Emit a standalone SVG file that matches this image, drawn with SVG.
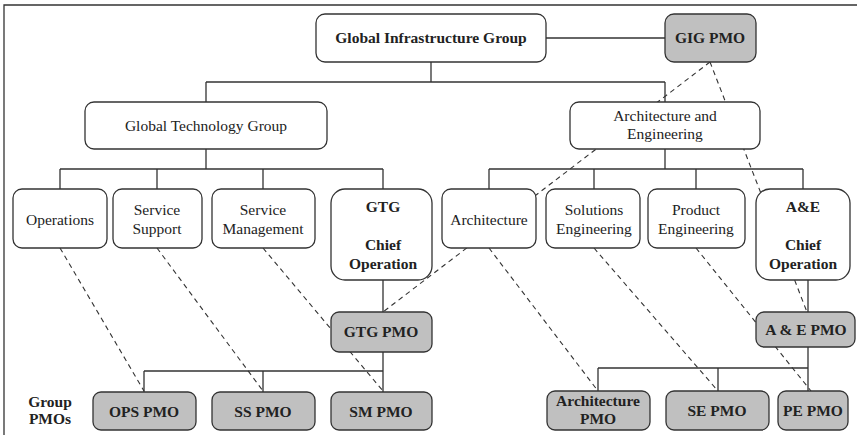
<svg xmlns="http://www.w3.org/2000/svg" width="857" height="435" viewBox="0 0 857 435" font-family="'Liberation Serif', 'DejaVu Serif', 'Times New Roman', Times, serif">
<style>
.box{fill:#fff;stroke:#333;stroke-width:1.3}
.pmo{fill:#c0c0c0;stroke:#333;stroke-width:1.3}
.t{font-family:'Liberation Serif','DejaVu Serif','Times New Roman',Times,serif;font-size:15.5px;fill:#222;text-anchor:middle}
.b{font-weight:bold}
.ln{stroke:#333;stroke-width:1.3;fill:none}
.dl{stroke:#333;stroke-width:1.1;fill:none;stroke-dasharray:5 4}
</style>
<rect width="857" height="435" fill="#fff"/>
<path class="ln" d="M4,435 V5 H857" stroke="#555"/>
<g id="connectors">
<path class="ln" d="M546,38 H665"/>
<path class="ln" d="M431,62 V82 M206,82 H665 M206,82 V102 M665,82 V102"/>
<path class="ln" d="M206,149 V169 M60,169 H383 M60,169 V189 M157,169 V189 M263,169 V189 M383,169 V189"/>
<path class="ln" d="M665,149 V169 M489,169 H803 M489,169 V189 M594,169 V189 M696,169 V189 M803,169 V189"/>
<path class="ln" d="M383,280 V312 M383,352 V371 M144,371 H383 M144,371 V392 M263,371 V392 M383,371 V392"/>
<path class="ln" d="M808,280 V312 M808,347 V368 M598,368 H808 M598,368 V391 M718,368 V391 M808,368 V391"/>
<path class="dl" d="M60,248 L144,391"/>
<path class="dl" d="M157,248 L263,391"/>
<path class="dl" d="M263,248 L383,391"/>
<path class="dl" d="M710,62 L383,312"/>
<path class="dl" d="M710,62 L807,312"/>
<path class="dl" d="M489,248 L598,391"/>
<path class="dl" d="M594,248 L718,391"/>
<path class="dl" d="M696,248 L811,391"/>
</g>
<g id="gig"><rect class="box" x="316" y="14" width="230" height="48" rx="9"/><text class="t b" x="431" y="43">Global Infrastructure Group</text></g>
<g id="gigpmo"><rect class="pmo" x="665" y="14" width="91" height="48" rx="9"/><text class="t b" x="710" y="43">GIG PMO</text></g>
<g id="gtg"><rect class="box" x="85" y="102" width="242" height="47" rx="9"/><text class="t" x="206" y="131">Global Technology Group</text></g>
<g id="ae"><rect class="box" x="570" y="102" width="190" height="47" rx="9"/><text class="t" x="665" y="121">Architecture and</text><text class="t" x="665" y="139">Engineering</text></g>
<g id="ops"><rect class="box" x="13" y="189" width="94" height="59" rx="9"/><text class="t" x="60" y="225">Operations</text></g>
<g id="ss"><rect class="box" x="113" y="189" width="89" height="59" rx="9"/><text class="t" x="157" y="215">Service</text><text class="t" x="157" y="234">Support</text></g>
<g id="sm"><rect class="box" x="212" y="189" width="103" height="59" rx="9"/><text class="t" x="263" y="215">Service</text><text class="t" x="263" y="234">Management</text></g>
<g id="gtgchief"><rect class="box" x="331" y="189" width="101" height="91" rx="14"/><text class="t b" x="383" y="212">GTG</text><text class="t b" x="383" y="250">Chief</text><text class="t b" x="383" y="269">Operation</text></g>
<g id="arch"><rect class="box" x="442" y="189" width="94" height="59" rx="9"/><text class="t" x="489" y="225">Architecture</text></g>
<g id="se"><rect class="box" x="546" y="189" width="94" height="59" rx="9"/><text class="t" x="594" y="215">Solutions</text><text class="t" x="594" y="234">Engineering</text></g>
<g id="pe"><rect class="box" x="648" y="189" width="97" height="59" rx="9"/><text class="t" x="696" y="215">Product</text><text class="t" x="696" y="234">Engineering</text></g>
<g id="aechief"><rect class="box" x="756" y="189" width="94" height="91" rx="14"/><text class="t b" x="803" y="212">A&amp;E</text><text class="t b" x="803" y="250">Chief</text><text class="t b" x="803" y="269">Operation</text></g>
<g id="gtgpmo"><rect class="pmo" x="331" y="312" width="101" height="40" rx="8"/><text class="t b" x="381" y="337">GTG PMO</text></g>
<g id="aepmo"><rect class="pmo" x="756" y="312" width="99" height="35" rx="8"/><text class="t b" x="806" y="335">A &amp; E PMO</text></g>
<g id="grouplabel"><text class="t b" x="50" y="407">Group</text><text class="t b" x="50" y="424">PMOs</text></g>
<g id="opspmo"><rect class="pmo" x="93" y="392" width="103" height="38" rx="8"/><text class="t b" x="144" y="417">OPS PMO</text></g>
<g id="sspmo"><rect class="pmo" x="212" y="392" width="103" height="38" rx="8"/><text class="t b" x="263" y="417">SS PMO</text></g>
<g id="smpmo"><rect class="pmo" x="331" y="392" width="101" height="38" rx="8"/><text class="t b" x="381" y="417">SM PMO</text></g>
<g id="archpmo"><rect class="pmo" x="547" y="391" width="103" height="39" rx="8"/><text class="t b" x="598" y="406">Architecture</text><text class="t b" x="598" y="424">PMO</text></g>
<g id="sepmo"><rect class="pmo" x="666" y="391" width="103" height="39" rx="8"/><text class="t b" x="717" y="416">SE PMO</text></g>
<g id="pepmo"><rect class="pmo" x="778" y="391" width="70" height="39" rx="8"/><text class="t b" x="813" y="416">PE PMO</text></g>
</svg>
